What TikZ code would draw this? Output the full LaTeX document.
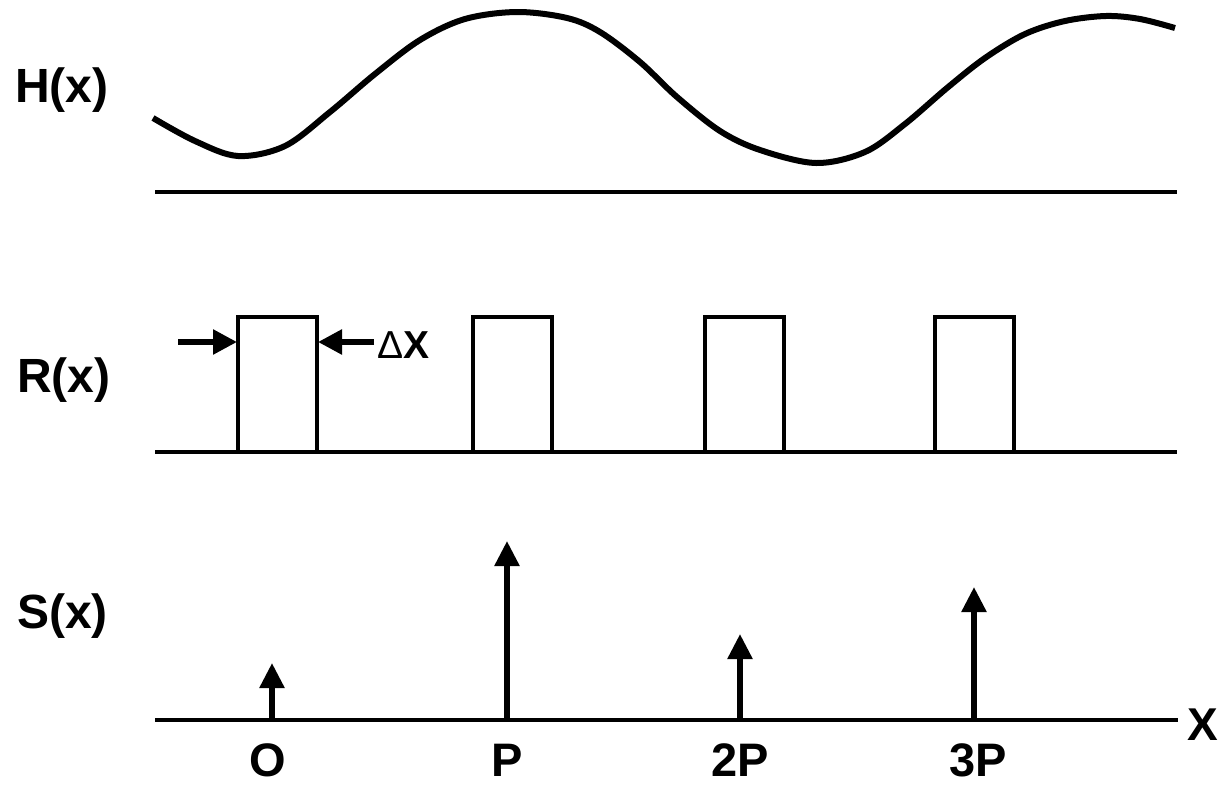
\documentclass[tikz,border=0pt]{standalone}
\usepackage{fontspec}
\setmainfont{Liberation Sans}
\usetikzlibrary{arrows.meta}
\begin{document}
\begin{tikzpicture}[x=1pt,y=-1pt,
  lbl/.style={font=\bfseries\fontsize{48}{55}\selectfont, inner sep=0pt, anchor=base west},
  tick/.style={font=\bfseries\fontsize{47}{55}\selectfont, inner sep=0pt, anchor=base},
  axis/.style={line width=3.6pt},
  wave/.style={line width=6pt},
  pulse/.style={line width=3.6pt},
  spike/.style={line width=5.5pt, -{Triangle[width=24pt,length=25pt]}},
  hint/.style={line width=5.5pt, -{Triangle[width=24pt,length=24pt]}}]
\useasboundingbox (0,0) rectangle (1219,787);
% labels
\node[lbl] (H) at (15,102) {H(x)};
\node[lbl] (R) at (17,392) {R(x)};
\node[lbl] (S) at (17,628) {S(x)};
% H(x)
\draw[axis] (155,192) coordinate (h0) -- (1177,192) coordinate (h1);
\draw[wave] plot[smooth, tension=0.55] coordinates {
 (153,118) (195,141) (238,156) (285,146) (330,112) (375,74) (420,40) (465,19) (517,12)
 (567,18) (600,32) (640,62) (677,97) (720,131) (760,150) (816,163) (865,152)
 (905,124) (947,88) (985,58) (1025,34) (1065,21) (1106,16) (1140,19) (1175,28)};
% R(x)
\draw[axis] (155,452) coordinate (r0) -- (1177,452) coordinate (r1);
\foreach \a/\n in {238/1,473/2,705/3,935/4}{
  \draw[pulse, line join=miter] (\a,452) -- (\a,317) -- (\a+79,317) -- (\a+79,452);
}
\coordinate (la) at (178,342);
\coordinate (lb) at (237,342);
\coordinate (ra) at (374,342);
\coordinate (rb) at (318,342);
\draw[hint] (la) -- (lb);
\draw[hint] (ra) -- (rb);
\node[font=\bfseries\fontsize{39}{45}\selectfont, inner sep=0pt, anchor=base west] (dx) at (377,358) {{\mdseries Δ}X};
% S(x)
\draw[axis] (155,720) coordinate (s0) -- (1178,720) coordinate (s1);
\node[lbl, font=\bfseries\fontsize{46}{55}\selectfont] (X) at (1187,740) {X};
\foreach \x/\t/\n in {272/663/a,507/541/b,740/634/c,974/587/d}{
  \coordinate (b\n) at (\x,720);
  \coordinate (t\n) at (\x,\t);
  \draw[spike] (b\n) -- (t\n);
}
\node[tick] (t0) at (268,776) {O};
\node[tick] (t1) at (507,776) {P};
\node[tick] (t2) at (740,776) {2P};
\node[tick] (t3) at (978,776) {3P};
\end{tikzpicture}
\end{document}
